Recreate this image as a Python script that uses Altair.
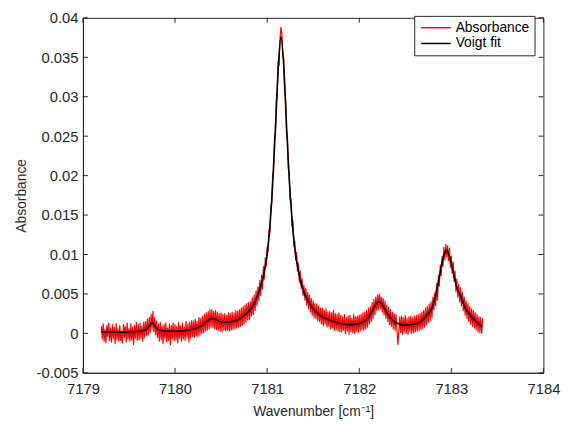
import altair as alt
import numpy as np
import pandas as pd

FONT = "Liberation Sans"
TXT = "#262626"

# Measured spectrum: wavenumber grid (cm^-1) and absorbance values (x 1e-3)
meas_start = 7179.20
meas_step = 0.01
absorbance_milli = [
    # 7179.20 - 7179.39
    0.9, -0.7, 1.2, -1.0, 0.5, -1.2, 1.0, -0.4, 1.3, -0.9, 0.7, -1.1, 1.1, -0.6, 0.8, -1.3, 1.2, -0.8, 0.6, -1.0,
    # 7179.40 - 7179.59
    1.0, -0.9, 0.3, -1.2, 1.1, -0.5, 0.9, -1.1, 1.3, -0.7, 0.6, -1.0, 1.2, -0.8, 0.8, -1.4, 1.0, -0.6, 1.4, -0.9,
    # 7179.60 - 7179.79
    1.1, -0.8, 1.3, -0.6, 0.9, -1.0, 1.4, -0.5, 1.5, -0.3, 1.8, -0.2, 2.0, 0.1, 2.4, 0.6, 2.8, 0.2, 2.0, -0.2,
    # 7179.80 - 7179.99
    1.6, -0.5, 1.2, -1.0, 1.4, -0.8, 0.9, -1.3, 1.1, -0.6, 1.3, -1.1, 0.7, -0.9, 1.2, -1.4, 1.0, -0.7, 1.3, -1.0,
    # 7180.00 - 7180.19
    1.1, -0.8, 0.9, -1.2, 1.4, -0.6, 1.0, -1.0, 1.3, -0.7, 0.8, -0.9, 1.5, -0.5, 1.2, -1.1, 1.4, -0.6, 1.6, -0.4,
    # 7180.20 - 7180.39
    1.6, -0.5, 1.8, -0.3, 1.5, -0.4, 2.0, -0.2, 1.9, 0.0, 2.2, 0.1, 2.4, 0.3, 2.6, 0.4, 2.8, 0.6, 3.0, 0.8,
    # 7180.40 - 7180.59
    3.0, 0.8, 2.8, 0.6, 2.9, 0.5, 2.7, 0.4, 2.5, 0.3, 2.6, 0.2, 2.4, 0.4, 2.5, 0.3, 2.3, 0.4, 2.6, 0.3,
    # 7180.60 - 7180.79
    2.5, 0.4, 2.7, 0.5, 2.6, 0.6, 2.9, 0.7, 2.8, 0.8, 3.0, 0.9, 3.2, 1.0, 3.4, 1.2, 3.6, 1.4, 3.8, 1.7,
    # 7180.80 - 7180.99
    3.9, 1.8, 4.0, 2.2, 4.5, 2.4, 4.9, 2.9, 5.4, 3.5, 5.9, 4.1, 6.7, 4.8, 7.4, 5.6, 8.5, 6.9, 9.6, 8.5,
    # 7181.00 - 7181.19
    10.9, 10.4, 13.2, 12.8, 16.2, 16.4, 20.1, 20.5, 24.6, 25.2, 29.4, 30.2, 34.5, 34.0, 37.3, 38.8, 38.0, 35.1, 34.9, 30.6,
    # 7181.20 - 7181.39
    29.8, 25.6, 25.1, 20.9, 20.3, 16.9, 17.0, 13.6, 14.3, 11.1, 11.7, 9.3, 10.3, 7.9, 8.9, 6.5, 7.9, 5.7, 6.9, 4.8,
    # 7181.40 - 7181.59
    6.1, 4.2, 5.7, 3.6, 5.2, 3.1, 4.9, 2.7, 4.4, 2.3, 4.1, 2.0, 3.8, 1.9, 3.7, 1.6, 3.5, 1.5, 3.2, 1.2,
    # 7181.60 - 7181.79
    3.2, 1.0, 2.9, 1.2, 3.1, 0.8, 2.7, 0.9, 2.8, 0.6, 2.6, 0.7, 2.9, 0.4, 2.5, 0.5, 2.4, 0.3, 2.6, 0.2,
    # 7181.80 - 7181.99
    2.3, 0.2, 2.1, 0.4, 2.4, 0.0, 2.0, 0.3, 2.2, -0.1, 2.3, 0.2, 1.9, 0.1, 2.4, 0.0, 2.1, 0.3, 2.2, 0.1,
    # 7182.00 - 7182.19
    2.3, 0.3, 2.4, 0.5, 2.6, 0.4, 2.7, 0.6, 2.9, 0.8, 3.2, 1.2, 3.4, 1.5, 3.9, 1.9, 4.3, 2.4, 4.6, 2.9,
    # 7182.20 - 7182.39
    4.9, 3.0, 5.0, 3.1, 4.6, 2.7, 4.4, 2.3, 4.1, 1.9, 3.6, 1.5, 3.3, 1.1, 3.0, 0.9, 2.7, 0.6, 2.5, 0.4,
    # 7182.40 - 7182.59
    2.4, 0.3, -1.4, 0.2, 2.1, 0.1, 2.2, -0.1, 2.0, 0.2, 2.3, 0.0, 1.9, -0.1, 2.1, 0.2, 2.2, 0.0, 2.0, 0.1,
    # 7182.60 - 7182.79
    2.2, 0.2, 2.3, 0.3, 2.4, 0.4, 2.5, 0.5, 2.7, 0.6, 2.9, 0.8, 3.2, 1.1, 3.4, 1.4, 3.7, 1.6, 4.0, 2.0,
    # 7182.80 - 7182.99
    4.6, 3.0, 5.1, 3.5, 6.3, 4.2, 7.4, 6.0, 8.7, 7.3, 9.8, 8.5, 10.9, 9.3, 11.3, 9.7, 11.1, 9.2, 10.8, 8.4,
    # 7183.00 - 7183.19
    9.8, 7.6, 9.0, 6.6, 7.9, 5.3, 6.9, 4.6, 6.2, 4.0, 5.8, 3.5, 5.2, 2.9, 4.6, 2.3, 4.1, 1.9, 3.8, 1.5,
    # 7183.20 - 7183.34
    3.4, 1.2, 3.1, 0.9, 2.9, 0.7, 2.6, 0.5, 2.4, 0.2, 2.1, 0.1, 2.0, 0.0, 1.9,
]

# Voigt fit curve (wavenumber, absorbance x 1e-3)
fit_wn = [
    7179.20, 7179.40, 7179.60, 7179.68, 7179.72, 7179.75, 7179.78, 7179.82,
    7179.90, 7180.00, 7180.10, 7180.20, 7180.30, 7180.36, 7180.40, 7180.45,
    7180.52, 7180.60, 7180.70, 7180.80, 7180.85, 7180.90, 7180.95, 7181.00,
    7181.03, 7181.06, 7181.09, 7181.12, 7181.15, 7181.18, 7181.21, 7181.24,
    7181.27, 7181.30, 7181.35, 7181.40, 7181.45, 7181.50, 7181.60, 7181.70,
    7181.80, 7181.90, 7182.00, 7182.08, 7182.14, 7182.18, 7182.21, 7182.25,
    7182.30, 7182.36, 7182.42, 7182.50, 7182.60, 7182.68, 7182.74, 7182.79,
    7182.84, 7182.88, 7182.92, 7182.95, 7182.98, 7183.02, 7183.06, 7183.10,
    7183.15, 7183.20, 7183.25, 7183.30, 7183.34,
]
fit_milli = [
    0.20, 0.15, 0.25, 0.45, 0.90, 1.35, 0.95, 0.50,
    0.30, 0.28, 0.35, 0.55, 1.05, 1.65, 1.90, 1.70,
    1.40, 1.45, 1.85, 2.80, 3.60, 4.90, 6.80, 10.0,
    13.5, 19.0, 26.0, 33.5, 37.6, 34.0, 26.5, 19.5,
    14.5, 10.8, 7.3, 5.2, 4.0, 3.1, 2.1, 1.6,
    1.25, 1.10, 1.25, 1.75, 2.80, 3.70, 4.00, 3.60,
    2.60, 1.70, 1.25, 1.05, 1.15, 1.60, 2.40, 3.20,
    5.40, 7.80, 10.0, 10.5, 9.8, 7.8, 5.8, 4.8,
    3.2, 2.4, 1.7, 1.15, 0.85,
]

x_ticks = [7179, 7180, 7181, 7182, 7183, 7184]
y_ticks = [-0.005, 0, 0.005, 0.01, 0.015, 0.02, 0.025, 0.03, 0.035, 0.04]
series_names = ["Absorbance", "Voigt fit"]
series_colors = ["#ff0000", "#000000"]

W, H = 467, 360

meas_wn = np.round(meas_start + meas_step * np.arange(len(absorbance_milli)), 2)
meas_df = pd.DataFrame({
    "wn": meas_wn,
    "abs": np.array(absorbance_milli) / 1000.0,
    "series": series_names[0],
})
fit_df = pd.DataFrame({
    "wn": fit_wn,
    "abs": np.array(fit_milli) / 1000.0,
    "series": series_names[1],
})
xt_df = pd.DataFrame({"wn": x_ticks})
yt_df = pd.DataFrame({"abs": y_ticks})

x_enc = alt.X(
    "wn:Q",
    scale=alt.Scale(domain=[7179, 7184], nice=False, zero=False),
    axis=alt.Axis(
        values=x_ticks, format="d", ticks=False, grid=False,
        labelFlush=False, labelOverlap=False,
        labelFont=FONT, labelFontSize=15, labelColor=TXT, labelPadding=9,
        title="Wavenumber [cm\u207b\u00b9]", titleFont=FONT, titleFontSize=14,
        titleFontWeight="normal", titleColor=TXT, titlePadding=8,
        domainColor=TXT,
    ),
)
y_enc = alt.Y(
    "abs:Q",
    scale=alt.Scale(domain=[-0.005, 0.04], nice=False, zero=False),
    axis=alt.Axis(
        values=y_ticks, labelExpr="toString(datum.value)", ticks=False, grid=False,
        labelFlush=False, labelOverlap=False,
        labelFont=FONT, labelFontSize=15, labelColor=TXT, labelPadding=5,
        title="Absorbance", titleFont=FONT, titleFontSize=14,
        titleFontWeight="normal", titleColor=TXT, titlePadding=8,
        domainColor=TXT,
    ),
)
color_enc = alt.Color(
    "series:N",
    scale=alt.Scale(domain=series_names, range=series_colors),
    legend=alt.Legend(
        title=None, orient="none", legendX=336, legendY=-2,
        symbolType="M-1,0H5", symbolSize=100, symbolStrokeWidth=1.5,
        labelOffset=23, labelFont=FONT, labelFontSize=14, labelColor="#000000",
        labelExpr="datum.label + '   '",
        rowPadding=2, padding=5, strokeColor=TXT, fillColor="white",
    ),
)

meas = alt.Chart(meas_df).mark_line(strokeWidth=1.2, strokeJoin="round").encode(
    x=x_enc, y=y_enc, color=color_enc
)
fit = alt.Chart(fit_df).mark_line(strokeWidth=1.6, interpolate="monotone").encode(
    x=x_enc, y=y_enc, color=color_enc
)

tick_len = 5
bottom_ticks = alt.Chart(xt_df).mark_rule(color=TXT, strokeWidth=1).encode(
    x=x_enc, y=alt.value(H), y2=alt.value(H - tick_len)
)
top_ticks = alt.Chart(xt_df).mark_rule(color=TXT, strokeWidth=1).encode(
    x=x_enc, y=alt.value(0), y2=alt.value(tick_len)
)
left_ticks = alt.Chart(yt_df).mark_rule(color=TXT, strokeWidth=1).encode(
    y=y_enc, x=alt.value(0), x2=alt.value(tick_len)
)
right_ticks = alt.Chart(yt_df).mark_rule(color=TXT, strokeWidth=1).encode(
    y=y_enc, x=alt.value(W), x2=alt.value(W - tick_len)
)

chart = alt.layer(
    meas, fit, bottom_ticks, top_ticks, left_ticks, right_ticks
).properties(
    width=W, height=H,
    autosize=alt.AutoSizeParams(type="none"),
    padding={"left": 76, "top": 7, "right": 30, "bottom": 54},
    background="white",
).configure_view(
    stroke=TXT, strokeWidth=1
)

chart.save("out.html", embed_options={"renderer": "svg", "actions": False})
